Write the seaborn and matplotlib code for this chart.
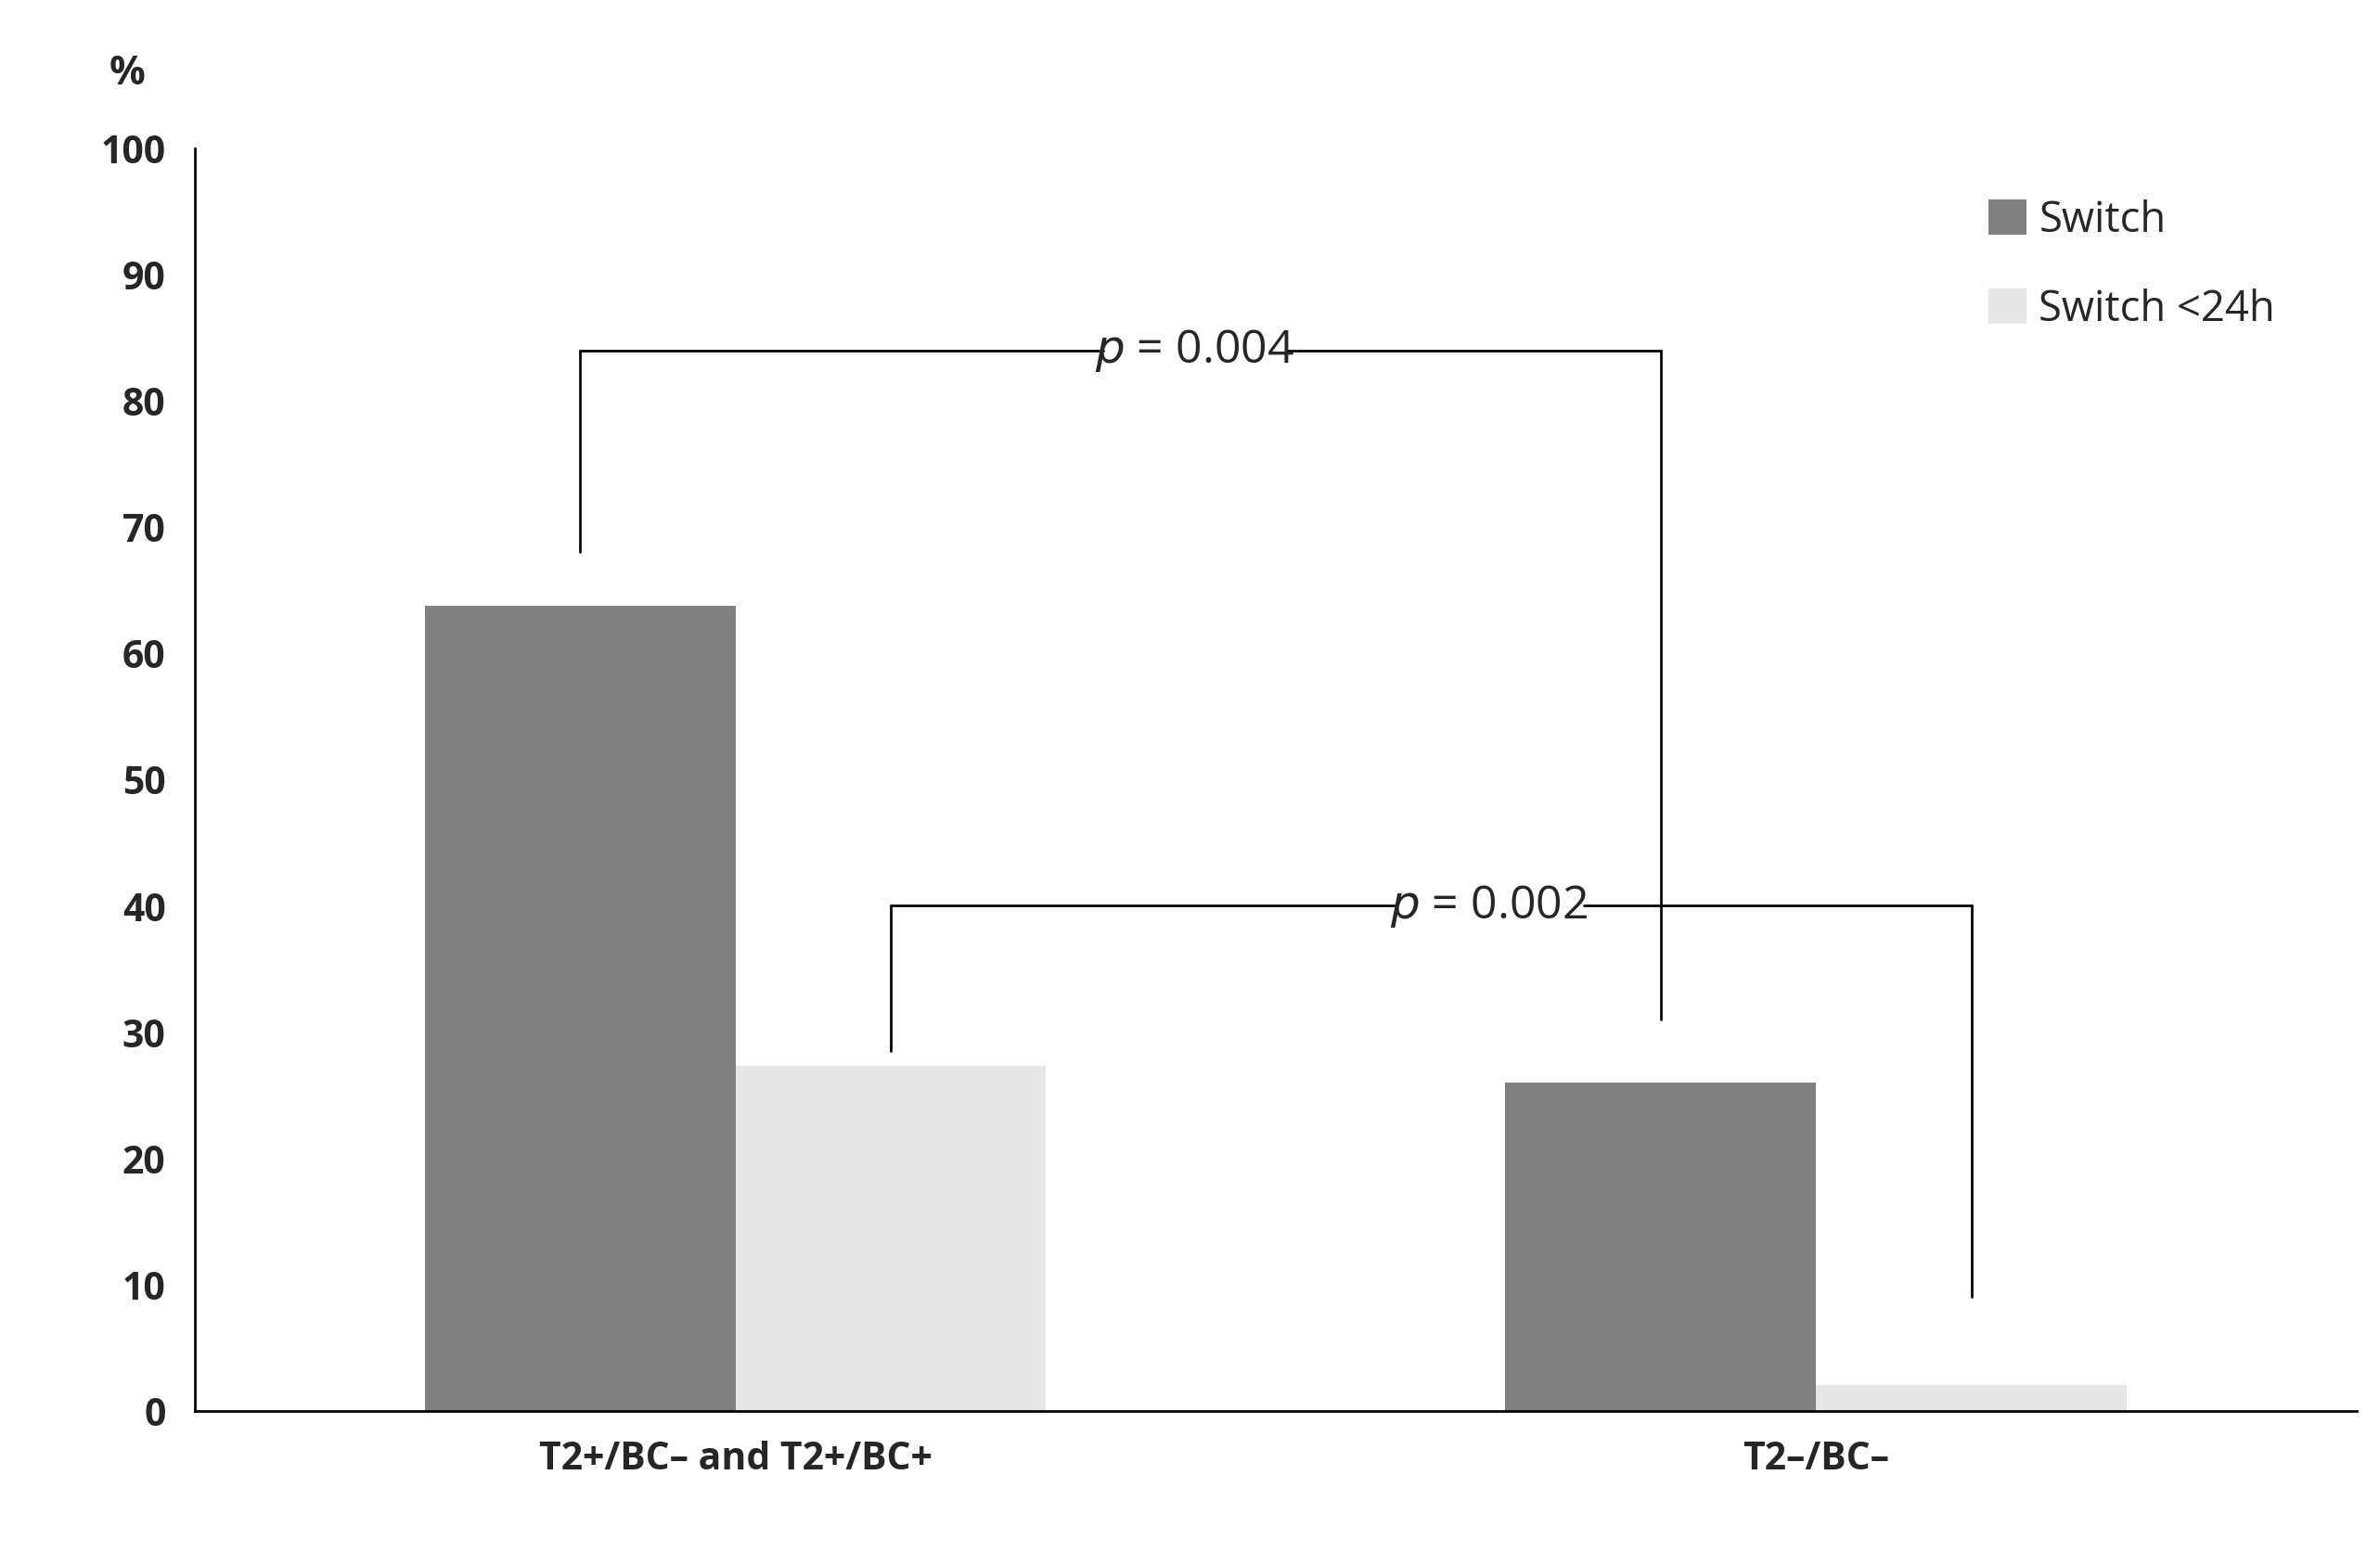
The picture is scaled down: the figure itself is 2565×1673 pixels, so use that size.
import matplotlib
matplotlib.use("Agg")
import matplotlib.pyplot as plt
import seaborn as sns
import pandas as pd

groups = ["T2+/BC\u2013 and T2+/BC+", "T2\u2013/BC\u2013"]
series = ["Switch", "Switch <24h"]
switch_vals = [63.8, 26.0]
switch24_vals = [27.3, 2.0]

df = pd.DataFrame({
    "group": groups * 2,
    "series": [series[0]] * 2 + [series[1]] * 2,
    "value": switch_vals + switch24_vals,
})

sns.set_style("white")
plt.rcParams['font.family'] = ['Open Sans', 'DejaVu Sans']
plt.rcParams['hatch.color'] = '#303030'
plt.rcParams['hatch.linewidth'] = 1.6

fig = plt.figure(figsize=(15.68, 10.23), dpi=163.6)
ax = fig.add_axes([0.082, 0.091, 0.908, 0.813])
sns.barplot(data=df, x="group", y="value", hue="series", ax=ax, width=0.575,
            palette=["#808080", "#d8d8d8"], saturation=1, edgecolor="none", linewidth=0)
for bar in ax.containers[1]:
    bar.set_hatch("//////")
    bar.set_facecolor("#e6e6e6")

ax.set_xlim(-0.5, 1.5)
ax.set_ylim(0, 100)
ax.set_yticks(range(0, 101, 10))
ax.set_xlabel("")
ax.set_ylabel("")
for s in ["top", "right"]:
    ax.spines[s].set_visible(False)
for s in ["left", "bottom"]:
    ax.spines[s].set_color("black")
    ax.spines[s].set_linewidth(1.2)
ax.tick_params(axis="both", length=0, labelsize=18, pad=14)
for lab in ax.get_xticklabels() + ax.get_yticklabels():
    lab.set_fontweight("bold")
ax.text(-0.082 / 0.908 * 2 * 0.55 - 0.5 + 0.02, 106, "%", fontsize=19, fontweight="bold",
        ha="left", va="center", clip_on=False)

w = 0.575 / 2
x1 = 0 - w / 2
x2 = 0 + w / 2
x3 = 1 - w / 2
x4 = 1 + w / 2
kw = dict(color="black", lw=1.2)
# p = 0.004 bracket
ax.plot([x1, x1], [68, 84], **kw)
ax.plot([x3, x3], [84, 31], **kw)
ax.plot([x1, 0.34], [84, 84], **kw)
ax.plot([0.51, x3], [84, 84], **kw)
ax.text(0.425, 84, r"$\it{p}$ = 0.004", fontsize=22, ha="center", va="center")
# p = 0.002 bracket
ax.plot([x2, x2], [28.5, 40], **kw)
ax.plot([x4, x4], [40, 9], **kw)
ax.plot([x2, 0.61], [40, 40], **kw)
ax.plot([0.785, x4], [40, 40], **kw)
ax.text(0.6975, 40, r"$\it{p}$ = 0.002", fontsize=22, ha="center", va="center")

leg = ax.legend(loc="upper right", bbox_to_anchor=(0.98, 0.99), frameon=False,
                fontsize=20, handlelength=0.9, handleheight=0.9, handletextpad=0.3,
                labelspacing=1.1)
leg.legend_handles[1].set_hatch("//////")
leg.legend_handles[1].set_facecolor("#e6e6e6")

fig.savefig("out.png", dpi=163.6)
